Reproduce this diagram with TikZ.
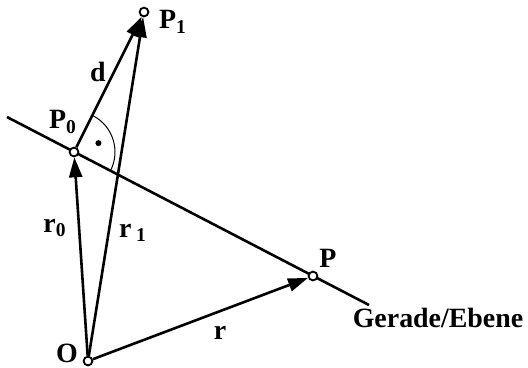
\documentclass[tikz,border=0pt]{standalone}
\usepackage{fontspec}
\setmainfont{Liberation Serif}
\usetikzlibrary{arrows.meta}

\begin{document}
\begin{tikzpicture}[
    x=0.5bp, y=0.5bp,
    font=\fontsize{14}{16}\selectfont\bfseries,
    vec/.style={-{Triangle[length=10bp, width=6.5bp]}, line width=1.3bp, black},
    pt/.style={draw, circle, fill=white, line width=0.9bp, inner sep=0pt, minimum size=4.4bp},
    lbl/.style={inner sep=1pt},
]
\useasboundingbox (0,0) rectangle (528,367);

% Gerade/Ebene
\coordinate (g1) at (7,250);
\coordinate (g2) at (369,62);
\draw[line width=1.3bp] (g1) -- (g2);

% Punkte
\node[pt] (O) at (88,6) {};
\node[pt] (P0) at (74,215) {};
\node[pt] (P1) at (144,355) {};
\node[pt] (P) at (313,91) {};

% rechter Winkel
\draw[line width=0.5bp] (P0.center) ++(-27:41) arc[start angle=-27, end angle=62, radius=41];
\fill (P0.center) ++(20:26) circle[radius=3];

% Vektoren
\draw[vec] (O) -- (P0);
\draw[vec] (O) -- (P1);
\draw[vec] (P0) -- (P1);
\draw[vec] (O) -- (P);

% Beschriftungen
\node[lbl] (lO) at (67,14) {O};
\node[lbl] (lP0) at (63,245) {P\textsubscript{0}};
\node[lbl] (lP1) at (173,345) {P\textsubscript{1}};
\node[lbl] (lP) at (328,109) {P};
\node[lbl] (ld) at (98,295) {d};
\node[lbl] (lr0) at (55,139) {r\textsubscript{0}};
\node[lbl] (lr1) at (133,134) {r\,\textsubscript{1}};
\node[lbl] (lr) at (220,34) {r};
\node[lbl] (lg) at (438,49) {Gerade/Ebene};

\end{tikzpicture}
\end{document}
